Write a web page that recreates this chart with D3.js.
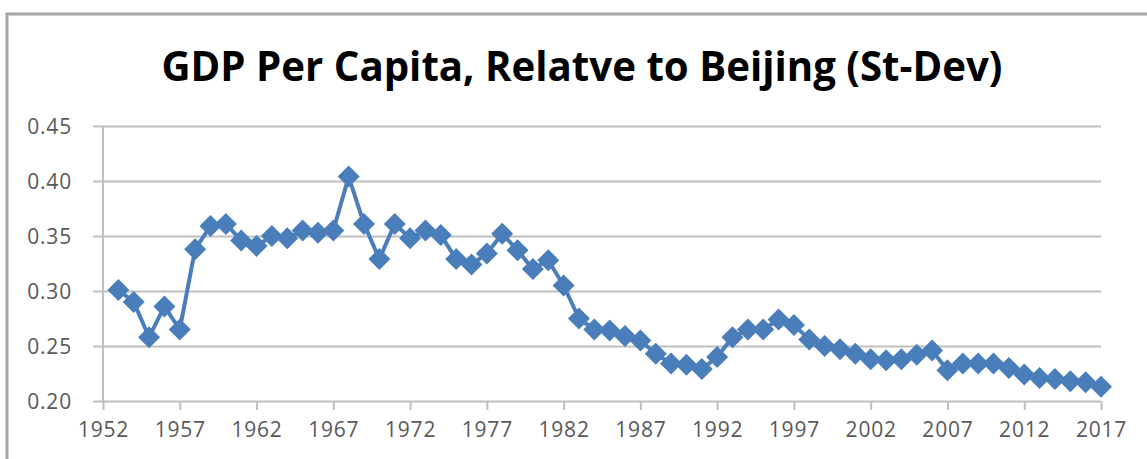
<!DOCTYPE html>
<html>
<head>
<meta charset="utf-8">
<script src="https://cdn.jsdelivr.net/npm/d3@7"></script>
<style>
  html, body { margin: 0; padding: 0; background: #fff; }
  svg { display: block; }
</style>
</head>
<body>
<svg class="chart" width="1147" height="459"></svg>
<script>
// ---- Data ----
const years = d3.range(1953, 2018);
const stdev = [
    0.301, 0.290, 0.258, 0.286, 0.265, 0.338, 0.359, 0.361, 0.346, 0.341, // 1953-62
    0.350, 0.348, 0.355, 0.353, 0.355, 0.404, 0.361, 0.329, 0.361, 0.348, // 1963-72
    0.355, 0.351, 0.329, 0.324, 0.334, 0.352, 0.337, 0.320, 0.328, 0.305, // 1973-82
    0.275, 0.265, 0.264, 0.259, 0.255, 0.243, 0.234, 0.233, 0.229, 0.240, // 1983-92
    0.258, 0.265, 0.265, 0.274, 0.269, 0.256, 0.250, 0.247, 0.243, 0.238, // 1993-2002
    0.237, 0.238, 0.242, 0.246, 0.228, 0.234, 0.234, 0.234, 0.230, 0.224, // 2003-12
    0.221, 0.220, 0.218, 0.217, 0.213                                     // 2013-17
];
const yTicks = [0.20, 0.25, 0.30, 0.35, 0.40, 0.45];
const xTicks = [1952, 1957, 1962, 1967, 1972, 1977, 1982, 1987, 1992, 1997, 2002, 2007, 2012, 2017];
const title = "GDP Per Capita, Relatve to Beijing (St-Dev)";

const data = years.map((y, i) => ({year: y, v: stdev[i]}));

// ---- Layout ----
const svg = d3.select("svg.chart");
const plot = {left: 103, right: 1101, top: 126, bottom: 401};
const blue = "#4a7ebb";
const grid = "#bfbfbf";
const textCol = "#595959";
const font = "'Open Sans', 'DejaVu Sans', sans-serif";

const x = d3.scaleLinear().domain([1952, 2017]).range([plot.left, plot.right]);
const y = d3.scaleLinear().domain([0.20, 0.45]).range([plot.bottom, plot.top]);

// Outer chart frame (cropped on the right and bottom)
svg.append("rect")
    .attr("x", 7).attr("y", 14)
    .attr("width", 1160).attr("height", 470)
    .attr("fill", "none")
    .attr("stroke", "#a6a6a6")
    .attr("stroke-width", 3);

// Title
svg.append("text")
    .attr("x", 582).attr("y", 81)
    .attr("text-anchor", "middle")
    .attr("font-family", font)
    .attr("font-weight", "bold")
    .attr("font-size", 41)
    .attr("fill", "#000")
    .attr("textLength", 841)
    .attr("lengthAdjust", "spacingAndGlyphs")
    .text(title);

// Horizontal gridlines, with the major tick sticking out to the left
const yAxis = d3.axisLeft(y)
    .tickValues(yTicks)
    .tickFormat(d3.format(".2f"))
    .tickSize(-(plot.right - plot.left))
    .tickSizeOuter(0)
    .tickPadding(0);
const gy = svg.append("g")
    .attr("transform", `translate(${plot.left},0)`)
    .call(yAxis);
gy.select(".domain").remove();
gy.selectAll(".tick line")
    .attr("x1", -10)
    .attr("stroke", grid)
    .attr("stroke-width", 2);
gy.selectAll(".tick text")
    .attr("x", -31)
    .attr("dy", "0.36em")
    .attr("font-family", font)
    .attr("font-size", 21)
    .attr("letter-spacing", 0.8)
    .attr("fill", textCol);

// Vertical axis line
svg.append("line")
    .attr("x1", plot.left).attr("x2", plot.left)
    .attr("y1", plot.top).attr("y2", plot.bottom)
    .attr("stroke", grid)
    .attr("stroke-width", 2);

// Bottom axis with ticks every five years
const xAxis = d3.axisBottom(x)
    .tickValues(xTicks)
    .tickFormat(d3.format("d"))
    .tickSize(9)
    .tickSizeOuter(0)
    .tickPadding(12);
const gx = svg.append("g")
    .attr("transform", `translate(0,${plot.bottom})`)
    .call(xAxis);
gx.select(".domain").remove();
gx.selectAll(".tick line")
    .attr("stroke", grid)
    .attr("stroke-width", 2);
gx.selectAll(".tick text")
    .attr("font-family", font)
    .attr("font-size", 21)
    .attr("letter-spacing", 0.8)
    .attr("fill", textCol);

// The series line
const line = d3.line()
    .x(d => x(d.year))
    .y(d => y(d.v));
svg.append("path")
    .datum(data)
    .attr("d", line)
    .attr("fill", "none")
    .attr("stroke", blue)
    .attr("stroke-width", 4)
    .attr("stroke-linejoin", "round");

// Diamond markers
const r = 11;
svg.append("g")
    .selectAll("path")
    .data(data)
    .join("path")
    .attr("transform", d => `translate(${x(d.year)},${y(d.v)})`)
    .attr("d", `M0,${-r}L${r},0L0,${r}L${-r},0Z`)
    .attr("fill", blue);
</script>
</body>
</html>
